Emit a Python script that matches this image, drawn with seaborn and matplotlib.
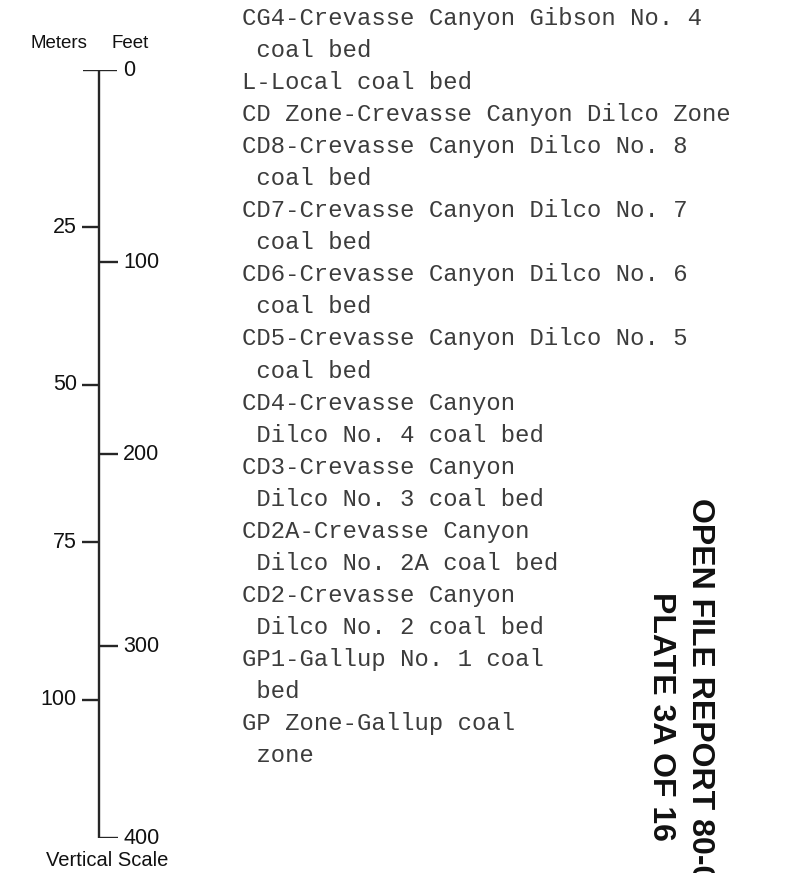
import matplotlib
matplotlib.use("Agg")
import matplotlib.pyplot as plt
import seaborn as sns

# vertical scale data
feet_ticks = [0, 100, 200, 300, 400]
meter_ticks = [25, 50, 75, 100]
FT_PER_M = 3.2808

legend_lines = [
    "CG4-Crevasse Canyon Gibson No. 4",
    " coal bed",
    "L-Local coal bed",
    "CD Zone-Crevasse Canyon Dilco Zone",
    "CD8-Crevasse Canyon Dilco No. 8",
    " coal bed",
    "CD7-Crevasse Canyon Dilco No. 7",
    " coal bed",
    "CD6-Crevasse Canyon Dilco No. 6",
    " coal bed",
    "CD5-Crevasse Canyon Dilco No. 5",
    " coal bed",
    "CD4-Crevasse Canyon",
    " Dilco No. 4 coal bed",
    "CD3-Crevasse Canyon",
    " Dilco No. 3 coal bed",
    "CD2A-Crevasse Canyon",
    " Dilco No. 2A coal bed",
    "CD2-Crevasse Canyon",
    " Dilco No. 2 coal bed",
    "GP1-Gallup No. 1 coal",
    " bed",
    "GP Zone-Gallup coal",
    " zone",
]

plate_lines = ["OPEN FILE REPORT 80-0", "PLATE 3A OF 16"]

W, H = 802, 873
sns.set_theme(style="white")
plt.rcParams['font.family'] = ['Liberation Sans', 'DejaVu Sans']

fig = plt.figure(figsize=(W / 100, H / 100), dpi=100)


def fx(x):
    return x / W


def fy(y):
    return 1 - y / H


# scale bar axes: x=0 at pixel 99, y in feet (0 at px 70, 400 at px 838)
ax = fig.add_axes([fx(59), fy(838), fx(80), (838 - 70) / H])
ax.set_xlim(-1, 1)
ax.set_ylim(400, 0)
ax.axis("off")

ink = "#262626"
sns.lineplot(x=[0, 0], y=[feet_ticks[0], feet_ticks[-1]], ax=ax,
             color=ink, linewidth=1.7, sort=False, estimator=None, errorbar=None)
# top bar of the T
ax.hlines(0, -0.4, 0.45, color=ink, lw=1.7)
# feet ticks on the right, meters on the left
ax.hlines(feet_ticks[1:], 0, 0.48, color=ink, lw=1.7)
mft = [m * FT_PER_M for m in meter_ticks]
ax.hlines(mft, -0.43, 0, color=ink, lw=1.7)

for f in feet_ticks:
    ax.text(0.6, f, str(f), ha="left", va="center", fontsize=15.5, color="#111")
for m, y in zip(meter_ticks, mft):
    ax.text(-0.55, y, str(m), ha="right", va="center", fontsize=15.5, color="#111")

fig.text(fx(59), fy(44), "Meters", ha="center", va="center", fontsize=13.5, color="#111")
fig.text(fx(130), fy(44), "Feet", ha="center", va="center", fontsize=13.5, color="#111")
fig.text(fx(107), fy(860), "Vertical Scale", ha="center", va="center",
         fontsize=14.5, color="#111")

# typewritten legend
for i, line in enumerate(legend_lines):
    fig.text(fx(242), fy(25 + 32.05 * i), line, ha="left", va="baseline",
             fontsize=17.2, family="Liberation Mono", color="#3c3c3c")

# rotated plate caption at the right (runs off the bottom edge as in the scan)
fig.text(fx(700), fy(498), plate_lines[0], rotation=270, ha="center", va="top",
         fontsize=23, weight="bold", color="#111")
fig.text(fx(661), fy(592), plate_lines[1], rotation=270, ha="center", va="top",
         fontsize=23, weight="bold", color="#111")

fig.savefig("out.png", dpi=100, facecolor="white")
